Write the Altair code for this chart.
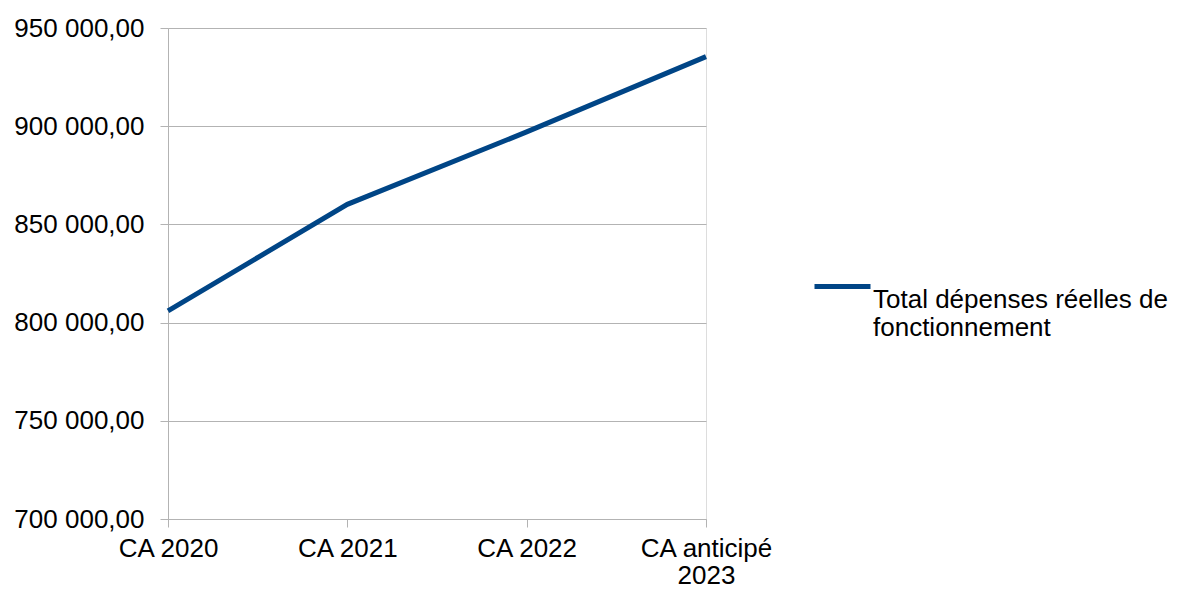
import altair as alt
import pandas as pd

categories = ["CA 2020", "CA 2021", "CA 2022", "CA anticipé 2023"]
values = [806000, 860200, 897100, 935400]
series_name = "Total dépenses réelles de fonctionnement"
y_ticks = [700000, 750000, 800000, 850000, 900000, 950000]

df = pd.DataFrame({"cat": categories, "val": values, "serie": [series_name] * len(categories)})

FONT = "Liberation Sans"
FS = 26
GRID = "#b3b3b3"

y_label = "replace(replace(format(datum.value, ',.2f'), ',', ' '), '.', ',')"
x_label = "datum.label == 'CA anticipé 2023' ? ['CA anticipé', '2023'] : datum.label"
leg_label = "datum.label == '" + series_name + "' ? ['Total dépenses réelles de', 'fonctionnement'] : datum.label"

chart = alt.Chart(df).mark_line(strokeWidth=5, strokeCap="butt").encode(
    x=alt.X("cat:N", sort=categories, scale=alt.Scale(type="point", padding=0),
            axis=alt.Axis(title=None, labelAngle=0, labelExpr=x_label, labelFont=FONT,
                          labelFontSize=FS, labelColor="#000000", labelPadding=8,
                          tickSize=8, tickColor=GRID, domainColor=GRID, grid=False,
                          labelLineHeight=27)),
    y=alt.Y("val:Q", scale=alt.Scale(domain=[700000, 950000], nice=False, zero=False),
            axis=alt.Axis(title=None, values=y_ticks, labelExpr=y_label, labelFont=FONT,
                          labelFontSize=FS, labelColor="#000000", labelPadding=16,
                          tickSize=8, tickColor=GRID, domainColor=GRID, gridColor=GRID,
                          gridWidth=1)),
    color=alt.Color("serie:N", scale=alt.Scale(range=["#004586"]),
                    legend=alt.Legend(title=None, orient="none", legendX=644, legendY=228,
                                      symbolType="stroke", symbolSize=3136, symbolStrokeWidth=5,
                                      labelExpr=leg_label, labelFont=FONT, labelFontSize=FS,
                                      labelColor="#000000", labelLimit=400, labelOffset=0,
                                      labelBaseline="top")),
).properties(
    width=538, height=491,
    autosize=alt.AutoSizeParams(type="none"),
    padding={"left": 160, "top": 20, "right": 465, "bottom": 68},
).configure_view(stroke=GRID).configure(background="white")

chart.save("out.html", embed_options={"renderer": "svg", "actions": False})
